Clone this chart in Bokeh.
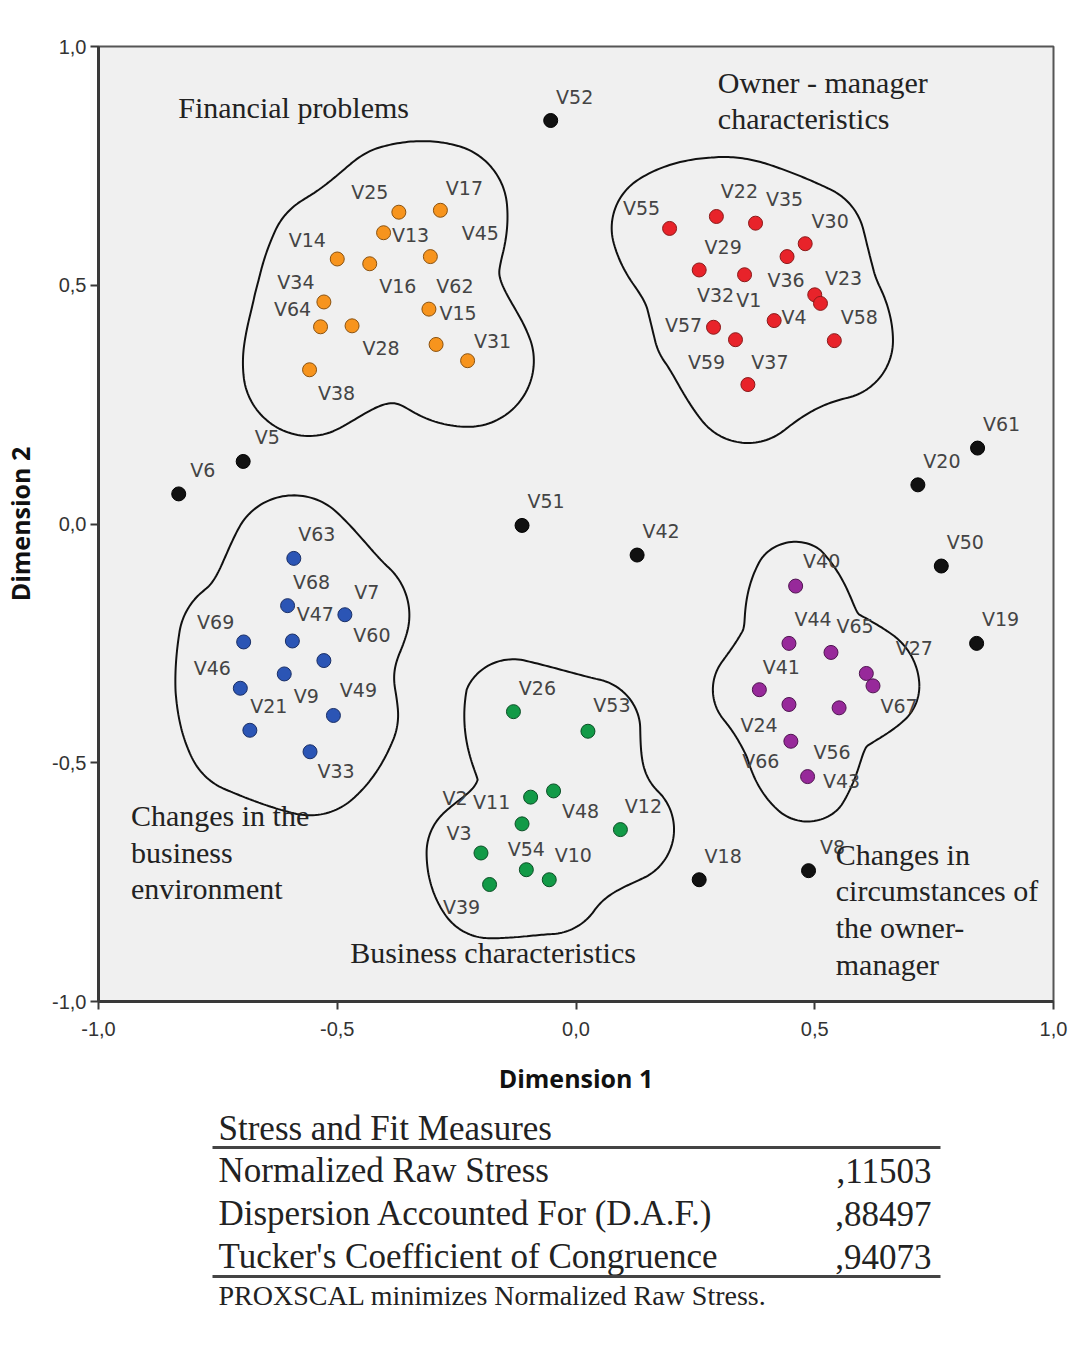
import numpy as np
from bokeh.plotting import figure
from bokeh.models import ColumnDataSource, Range1d, FixedTicker, CustomJSTickFormatter
from bokeh.layouts import column
from bokeh.embed import file_html
from bokeh.resources import INLINE
from bokeh.core.properties import value

# ---------------- data (PROXSCAL 2-D configuration) ----------------
FIN_NAMES = ["V25", "V17", "V13", "V14", "V16", "V45", "V34", "V64", "V28", "V62", "V15", "V31", "V38"]
FIN_X = [-0.371, -0.284, -0.403, -0.500, -0.432, -0.305, -0.528, -0.535, -0.469, -0.308, -0.293, -0.227, -0.558]
FIN_Y = [0.653, 0.657, 0.610, 0.555, 0.545, 0.560, 0.465, 0.413, 0.415, 0.450, 0.376, 0.342, 0.323]

OWN_NAMES = ["V55", "V22", "V35", "V30", "V36", "V29", "V32", "V1", "V23", "V4", "V57", "V59", "V58", "V37"]
OWN_X = [0.196, 0.294, 0.376, 0.480, 0.442, 0.258, 0.353, 0.500, 0.512, 0.415, 0.288, 0.334, 0.541, 0.360]
OWN_Y = [0.619, 0.644, 0.630, 0.587, 0.560, 0.532, 0.522, 0.480, 0.462, 0.426, 0.412, 0.386, 0.384, 0.292]

ENV_NAMES = ["V63", "V68", "V7", "V69", "V47", "V60", "V46", "V9", "V21", "V49", "V33"]
ENV_X = [-0.591, -0.604, -0.484, -0.696, -0.594, -0.528, -0.703, -0.611, -0.683, -0.508, -0.557]
ENV_Y = [-0.072, -0.171, -0.190, -0.247, -0.245, -0.286, -0.344, -0.314, -0.432, -0.401, -0.477]

BUS_NAMES = ["V26", "V53", "V11", "V48", "V2", "V12", "V3", "V54", "V10", "V39"]
BUS_X = [-0.131, 0.025, -0.095, -0.047, -0.113, 0.093, -0.199, -0.104, -0.056, -0.181]
BUS_Y = [-0.393, -0.434, -0.572, -0.559, -0.628, -0.640, -0.689, -0.724, -0.745, -0.755]

CIR_NAMES = ["V40", "V44", "V65", "V27", "V67", "V41", "V24", "V56", "V66", "V43"]
CIR_X = [0.460, 0.446, 0.534, 0.608, 0.622, 0.384, 0.446, 0.551, 0.450, 0.485]
CIR_Y = [-0.130, -0.250, -0.269, -0.313, -0.339, -0.347, -0.378, -0.385, -0.455, -0.529]

OTH_NAMES = ["V52", "V5", "V6", "V51", "V42", "V61", "V20", "V50", "V19", "V18", "V8"]
OTH_X = [-0.053, -0.697, -0.832, -0.113, 0.128, 0.841, 0.716, 0.765, 0.839, 0.258, 0.487]
OTH_Y = [0.845, 0.131, 0.063, -0.003, -0.065, 0.159, 0.082, -0.088, -0.250, -0.745, -0.726]

AXIS_TICKS = [-1.0, -0.5, 0.0, 0.5, 1.0]
X_TITLE = "Dimension 1"
Y_TITLE = "Dimension 2"

TABLE_TITLE = "Stress and Fit Measures"
MEASURE_NAMES = ["Normalized Raw Stress", "Dispersion Accounted For (D.A.F.)",
                 "Tucker's Coefficient of Congruence"]
MEASURE_VALUES = [",11503", ",88497", ",94073"]
FOOTNOTE = "PROXSCAL minimizes Normalized Raw Stress."

# ---------------- layout / style ----------------
# label offsets in screen pixels (dx, dy down) relative to each point
LABEL_OFFSETS = {
    "V55": (-28, -20), "V22": (23, -25), "V35": (29, -24), "V30": (25, -23), "V29": (24, -23),
    "V36": (-1, 23), "V23": (23, -25), "V32": (-29, 20), "V1": (-66, 5), "V4": (20, -4),
    "V58": (25, -24), "V57": (-30, -2), "V59": (-29, 22), "V37": (22, -23),
    "V25": (-29, -20), "V17": (24, -22), "V13": (27, 2), "V45": (50, -24), "V14": (-30, -19),
    "V34": (-28, -20), "V16": (28, 22), "V62": (26, -23), "V64": (-28, -18), "V15": (22, -31),
    "V28": (29, 22), "V31": (25, -20), "V38": (27, 23),
    "V63": (23, -24), "V68": (24, -24), "V47": (23, -27), "V7": (22, -23), "V60": (48, -26),
    "V69": (-28, -20), "V46": (-28, -20), "V9": (22, 22), "V21": (19, -24), "V49": (25, -25),
    "V33": (26, 19),
    "V26": (24, -24), "V53": (24, -26), "V11": (-39, 5), "V48": (27, 20), "V2": (-67, -26),
    "V12": (23, -24), "V3": (-22, -20), "V54": (0, -21), "V10": (24, -25), "V39": (-28, 22),
    "V40": (26, -25), "V44": (24, -24), "V65": (24, -26), "V27": (48, -25), "V67": (26, 20),
    "V41": (22, -23), "V24": (-30, 21), "V56": (-7, 44), "V66": (-30, 20), "V43": (34, 4),
}
DEFAULT_OFFSET = (24, -24)

GROUPS = [
    (FIN_NAMES, FIN_X, FIN_Y, "#F7941D", "#8a5210", 0.145),
    (OWN_NAMES, OWN_X, OWN_Y, "#E8232A", "#8a1a1a", 0.128),
    (ENV_NAMES, ENV_X, ENV_Y, "#2B55B5", "#1a2f66", 0.138),
    (BUS_NAMES, BUS_X, BUS_Y, "#129A47", "#0a4f25", 0.117),
    (CIR_NAMES, CIR_X, CIR_Y, "#97299A", "#4f1450", 0.100),
    (OTH_NAMES, OTH_X, OTH_Y, "#111111", "#000000", None),
]

ANNOTATIONS = [
    ("Financial problems", -0.833, 0.872),
    ("Owner - manager", 0.297, 0.925),
    ("characteristics", 0.297, 0.849),
    ("Changes in the", -0.932, -0.610),
    ("business", -0.932, -0.688),
    ("environment", -0.932, -0.763),
    ("Business characteristics", -0.473, -0.897),
    ("Changes in", 0.544, -0.692),
    ("circumstances of", 0.544, -0.768),
    ("the owner-", 0.544, -0.845),
    ("manager", 0.544, -0.923),
]


def blob_outline(xs, ys, radius, n=360, smooth=29):
    """Smoothed outline of the union of circles around a cluster's points."""
    P = np.column_stack([xs, ys])
    c = P.mean(axis=0)
    th = np.linspace(0, 2 * np.pi, n, endpoint=False)
    U = np.column_stack([np.cos(th), np.sin(th)])
    D = P - c
    proj = U @ D.T
    perp2 = (D ** 2).sum(1)[None, :] - proj ** 2
    disc = radius ** 2 - perp2
    t = np.where(disc >= 0, proj + np.sqrt(np.clip(disc, 0, None)), -np.inf)
    r = t.max(axis=1)
    fin = np.isfinite(r)
    r[~fin] = r[fin].min()
    k = np.ones(smooth) / smooth
    rp = np.concatenate([r[-smooth:], r, r[:smooth]])
    rs = np.convolve(rp, k, mode="same")[smooth:-smooth]
    ox = c[0] + rs * np.cos(th)
    oy = c[1] + rs * np.sin(th)
    return list(ox) + [ox[0]], list(oy) + [oy[0]]


BORDER_L, BORDER_R, FRAME = 90, 19, 955

p = figure(frame_width=FRAME, frame_height=FRAME,
           x_range=Range1d(-1, 1), y_range=Range1d(-1, 1),
           output_backend="svg", toolbar_location=None,
           min_border_left=BORDER_L, min_border_right=BORDER_R, min_border_top=46,
           min_border_bottom=99,
           background_fill_color="#f0f0f0", border_fill_color="white")
p.xgrid.visible = False
p.ygrid.visible = False
p.outline_line_color = "#555555"
p.outline_line_width = 2

for ax in (p.xaxis[0], p.yaxis[0]):
    ax.ticker = FixedTicker(ticks=AXIS_TICKS)
    ax.formatter = CustomJSTickFormatter(code="return tick.toFixed(1).replace('.', ',');")
    ax.axis_line_color = "#3a3a3a"
    ax.axis_line_width = 3
    ax.major_tick_line_color = "#3a3a3a"
    ax.major_tick_line_width = 2
    ax.major_tick_out = 8
    ax.major_tick_in = 0
    ax.minor_tick_line_color = None
    ax.major_label_text_font = "Liberation Sans"
    ax.major_label_text_font_size = "20px"
    ax.major_label_text_color = "#333333"
    ax.axis_label_text_font = "Open Sans"
    ax.axis_label_text_font_style = "bold"
    ax.axis_label_text_font_size = "25px"
    ax.axis_label_text_color = "#111111"

p.xaxis.axis_label = X_TITLE
p.yaxis.axis_label = Y_TITLE
p.xaxis.major_label_standoff = 12
p.xaxis.axis_label_standoff = 22
p.yaxis.major_label_standoff = 4
p.yaxis.axis_label_standoff = 12

# cluster outlines
for names, xs, ys, fill, line, rad in GROUPS:
    if rad is None:
        continue
    bx, by = blob_outline(xs, ys, rad)
    p.line(bx, by, line_color="#111111", line_width=2)

# points + labels
for names, xs, ys, fill, line, rad in GROUPS:
    offs = [LABEL_OFFSETS.get(nm, DEFAULT_OFFSET) for nm in names]
    src = ColumnDataSource(dict(x=xs, y=ys, name=names,
                                dx=[o[0] for o in offs], dy=[o[1] for o in offs]))
    p.text(x="x", y="y", text="name", x_offset="dx", y_offset="dy", source=src,
           text_align="center", text_baseline="middle",
           text_font=value("DejaVu Sans"), text_font_size="19px", text_color="#444444")
    p.scatter(x="x", y="y", source=src, size=14, fill_color=fill, line_color=line, line_width=1)

ann = ColumnDataSource(dict(x=[a[1] for a in ANNOTATIONS], y=[a[2] for a in ANNOTATIONS],
                            t=[a[0] for a in ANNOTATIONS]))
p.text(x="x", y="y", text="t", source=ann, text_align="left", text_baseline="middle",
       text_font=value("Liberation Serif"), text_font_size="30px", text_color="#222222")

# ---------------- table (x in page pixels of the frame: 98..1053) ----------------
T_H = 232
X0 = 8 + BORDER_L
t = figure(frame_width=FRAME, frame_height=T_H,
           x_range=Range1d(X0, X0 + FRAME), y_range=Range1d(T_H, 0),
           output_backend="svg", toolbar_location=None,
           min_border_left=BORDER_L, min_border_right=BORDER_R, min_border_top=0,
           min_border_bottom=0, x_axis_location=None, y_axis_location=None,
           background_fill_color="white", border_fill_color="white")
t.grid.visible = False
t.outline_line_color = None

serif = value("Liberation Serif")
t.text(x=[218], y=[28], text=[TABLE_TITLE], text_align="left", text_baseline="middle",
       text_font=serif, text_font_size="35px", text_color="#222222")
row_y = [70, 113, 156]
t.text(x=[218] * 3, y=row_y, text=MEASURE_NAMES, text_align="left", text_baseline="middle",
       text_font=serif, text_font_size="35px", text_color="#222222")
t.text(x=[931] * 3, y=row_y, text=MEASURE_VALUES, text_align="right", text_baseline="middle",
       text_font=serif, text_font_size="35px", text_color="#222222")
t.segment(x0=[212, 212], y0=[47, 176], x1=[940, 940], y1=[47, 176],
          line_color="#444444", line_width=3)
t.text(x=[218], y=[195], text=[FOOTNOTE], text_align="left", text_baseline="middle",
       text_font=serif, text_font_size="28px", text_color="#222222")

layout = column(p, t)
open("out.html", "w").write(file_html(layout, INLINE))
